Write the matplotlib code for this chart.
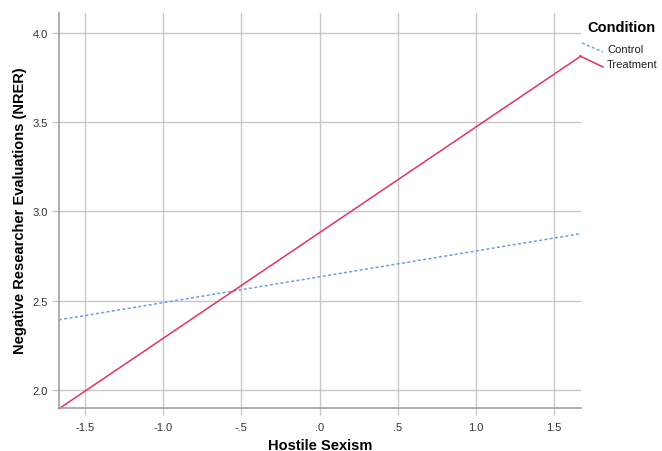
import matplotlib
matplotlib.use("Agg")
import matplotlib.pyplot as plt
from matplotlib.lines import Line2D

plt.rcParams['font.family'] = ['Liberation Sans', 'DejaVu Sans']

x_range = [-1.667, 1.673]
conditions = ["Control", "Treatment"]
control_y = [2.393, 2.876]
treatment_y = [1.895, 3.871]
xticks = [-1.5, -1.0, -0.5, 0.0, 0.5, 1.0, 1.5]
xtick_labels = ["-1.5", "-1.0", "-.5", ".0", ".5", "1.0", "1.5"]
yticks = [2.0, 2.5, 3.0, 3.5, 4.0]
ytick_labels = ["2.0", "2.5", "3.0", "3.5", "4.0"]

W, H = 662, 452
fig = plt.figure(figsize=(W/100, H/100), dpi=100)
ax = fig.add_axes([59/W, 1-409/H, (581-59)/W, (409-14)/H])

blue = "#6f9fe6"
red = "#e0335f"
ax.plot(x_range, control_y, color=blue, lw=1.1, ls=(0, (2, 1.5)), clip_on=False)
ax.plot(x_range, treatment_y, color=red, lw=1.1, clip_on=False)

ax.set_xlim(-1.667, 1.673)
ax.set_ylim(1.899, 4.112)
ax.set_xticks(xticks)
ax.set_xticklabels(xtick_labels)
ax.set_yticks(yticks)
ax.set_yticklabels(ytick_labels)
ax.grid(True, color="#c8c8c8", lw=1.0)
ax.set_axisbelow(True)
for s in ["top", "right"]:
    ax.spines[s].set_visible(False)
for s in ["left", "bottom"]:
    ax.spines[s].set_color("#a0a0a0")
    ax.spines[s].set_linewidth(1.2)
ax.tick_params(axis="both", colors="#c8c8c8", length=5, width=1.0, labelsize=8, labelcolor="#333333")
ax.tick_params(axis="x", pad=5)
ax.tick_params(axis="y", pad=3)

fig.text(320/W, 1-446/H, "Hostile Sexism", fontsize=10.5, fontweight="bold", ha="center", va="center")
fig.text(20/W, 1-211/H, "Negative Researcher Evaluations (NRER)", fontsize=10.5, fontweight="bold",
         ha="center", va="center", rotation=90)

# SPSS-style legend
fig.text(587/W, 1-28/H, "Condition", fontsize=10.5, fontweight="bold", va="center", ha="left")
fig.add_artist(Line2D([582/W, 603/W], [1-44/H, 1-53/H], color=blue, lw=1.1, ls=(0, (2, 1.5))))
fig.add_artist(Line2D([580/W, 603/W], [1-57/H, 1-68/H], color=red, lw=1.1))
fig.text(607/W, 1-50/H, conditions[0], fontsize=8, va="center", ha="left", color="#222222")
fig.text(607/W, 1-65/H, conditions[1], fontsize=8, va="center", ha="left", color="#222222")

fig.savefig("out.png", dpi=100)
